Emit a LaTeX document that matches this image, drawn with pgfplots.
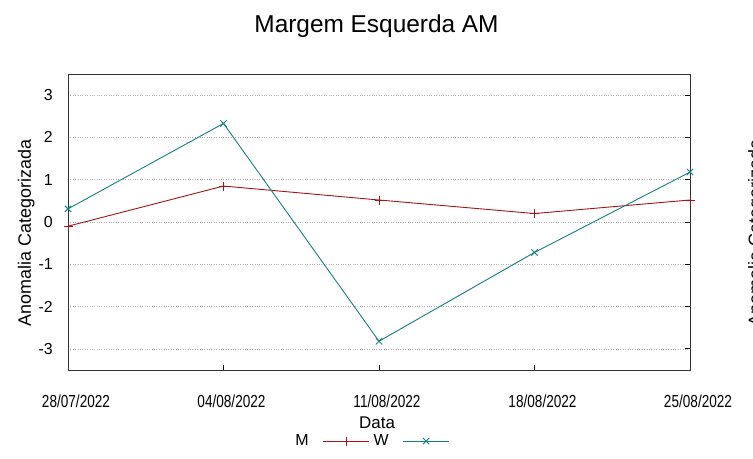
\documentclass[border=0pt]{standalone}
\usepackage{pgfplots}
\pgfplotsset{compat=1.18}
\usepackage{fontspec}
\setmainfont{Liberation Sans}
\usepackage{graphicx}
\definecolor{cM}{RGB}{165,20,25}
\definecolor{cW}{RGB}{20,128,128}
\newcommand{\xl}[1]{\scalebox{0.78}[1]{#1}}
\begin{document}
\begin{tikzpicture}[x=1bp,y=1bp]
\path[use as bounding box] (0,0) rectangle (753,459);
\begin{axis}[
  at={(68bp,89bp)}, anchor=south west,
  scale only axis, width=622bp, height=296bp,
  xmin=0, xmax=4, ymin=-3.5, ymax=3.5,
  xtick={0,1,2,3,4},
  xticklabels={\xl{28/07/2022},\xl{04/08/2022},\xl{11/08/2022},\xl{18/08/2022},\xl{25/08/2022}},
  ytick={-3,-2,-1,0,1,2,3},
  yticklabels={-3,-2,-1,0,1,2,3},
  xtick pos=bottom, ytick pos=right, yticklabel pos=left,
  tick align=inside, major tick length=5bp,
  tick style={black, line width=0.8bp},
  ymajorgrids, grid style={dotted, gray!60, line width=0.7bp},
  axis line style={black!80, line width=0.8bp},
  xticklabel style={font=\fontsize{17.5}{20}\selectfont, anchor=base, yshift=-38bp, xshift=8bp},
  yticklabel style={font=\fontsize{16}{18}\selectfont, anchor=east, inner sep=0pt, xshift=-15bp},
  ylabel={Anomalia Categorizada},
  ylabel style={font=\fontsize{18}{20}\selectfont, at={(axis description cs:-0.0595,0.463)}, rotate=0, anchor=base},
  xlabel={Data},
  xlabel style={font=\fontsize{17}{20}\selectfont, at={(axis description cs:0.497,-0.196)}, anchor=base},
  title={Margem Esquerda AM},
  title style={font=\fontsize{24.5}{28}\selectfont, at={(axis description cs:0.496,1.1216)}, anchor=base},
  legend plot pos=right,
  legend columns=2,
  legend style={draw=none, fill=none, font=\fontsize{16}{18}\selectfont,
    at={(axis description cs:0.488,-0.24)}, anchor=center,
    inner sep=0pt, row sep=0pt,
    /tikz/every odd column/.append style={column sep=12bp},
    /tikz/every even column/.append style={column sep=2bp}},
  legend image code/.code={\draw[mark repeat=2,mark phase=2,#1] plot coordinates {(0bp,0bp)(23bp,0bp)(46bp,0bp)};},
]
\addplot[cM, line width=0.9bp, mark=+, mark size=4.5bp, mark options={solid, line width=0.9bp}]
  coordinates {(0,-0.1) (1,0.85) (2,0.52) (3,0.2) (4,0.52)};
\addlegendentry{M}
\addplot[cW, line width=0.9bp, mark=x, mark size=4.5bp, mark options={solid, line width=0.9bp}]
  coordinates {(0,0.31) (1,2.33) (2,-2.82) (3,-0.72) (4,1.18)};
\addlegendentry{W}
\end{axis}
\node[rotate=90, anchor=base, font=\fontsize{18}{20}\selectfont] at (761,226) {Anomalia Categorizada};
\end{tikzpicture}
\end{document}
